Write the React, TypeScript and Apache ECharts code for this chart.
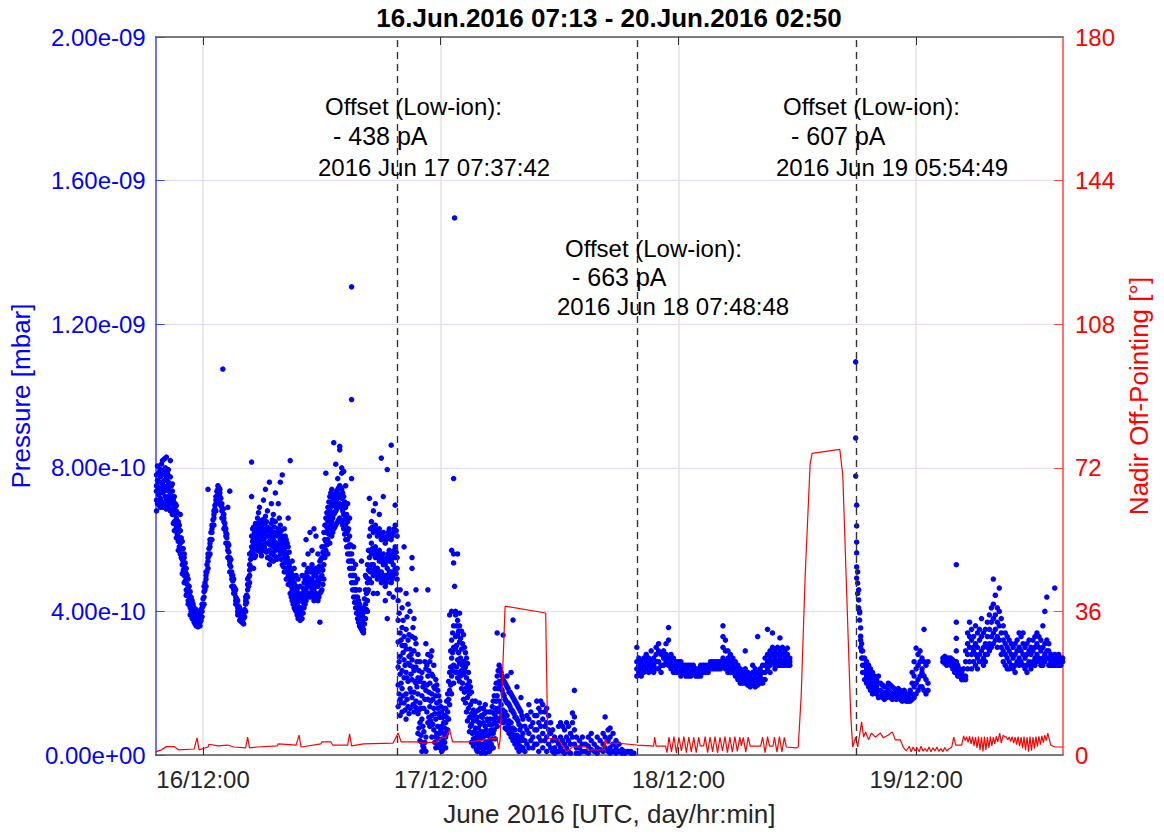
import React, { useEffect, useRef } from 'react';
import * as echarts from 'echarts';

// ---- axis extents (hours since 16 Jun 2016 00:00 UTC) ----
const X_MIN = 7 + 13 / 60; // 16.Jun.2016 07:13
const X_MAX = 96 + 2 + 50 / 60; // 20.Jun.2016 02:50
const xTickHours = [12, 36, 60, 84];

const titleText = '16.Jun.2016 07:13 - 20.Jun.2016 02:50';
const xName = 'June 2016 [UTC, day/hr:min]';
const yLeftName = 'Pressure [mbar]';
const yRightName = 'Nadir Off-Pointing [°]';

// offset events (hours), labels
const offsetEventHours = [31.628, 55.813, 77.914];
const offsetTitles = ['Offset (Low-ion):', 'Offset (Low-ion):', 'Offset (Low-ion):'];
const offsetValues = ['- 438 pA', '- 663 pA', '- 607 pA'];
const offsetStamps = ['2016 Jun 17 07:37:42', '2016 Jun 18 07:48:48', '2016 Jun 19 05:54:49'];

// ---- pressure samples: [hour, values in 1e-10 mbar] ----
const pressureA: [number, number[]][] = [
  [7.3, [7.5, 7.1, 7.8, 6.8, 7.35]], [7.5, [7.6, 7.25, 7.0, 7.85, 7.45]], [7.7, [7.4, 7.75, 7.95, 7.15, 6.9]],
  [7.9, [7.55, 7.8, 8.2, 7.3, 7.05]], [8.1, [7.65, 7.35, 7.9, 7.0, 8.25]], [8.3, [7.45, 7.7, 8.3, 7.1, 6.85]],
  [8.5, [7.2, 7.6, 7.95, 6.95, 7.4]], [8.7, [7.3, 7.05, 7.75, 8.2, 6.8]], [8.9, [7.0, 7.35, 6.7, 7.55, 7.2]],
  [9.1, [6.9, 6.5, 7.2, 6.25, 6.7]], [9.3, [6.6, 6.35, 6.95, 6.05, 6.8]], [9.5, [6.2, 5.95, 6.5, 5.7, 6.35]],
  [9.7, [5.9, 5.6, 6.25, 6.7, 5.75]], [9.9, [5.6, 5.3, 5.95, 5.05, 5.45]], [10.1, [5.25, 5.0, 5.5, 4.8, 5.6]],
  [10.3, [4.9, 4.6, 5.2, 4.45, 5.05]], [10.5, [4.65, 4.3, 4.9, 4.2, 4.5]], [10.7, [4.3, 4.1, 4.55, 3.9, 4.4]],
  [10.9, [4.15, 3.9, 4.3, 3.8, 4.0]], [11.1, [3.9, 3.7, 4.1, 3.75, 3.95]], [11.3, [3.75, 3.6, 3.95, 3.7, 4.05]],
  [11.5, [3.6, 3.7, 3.9, 3.57, 3.8]], [11.7, [3.7, 3.85, 4.0, 3.6, 3.9]], [11.9, [4.0, 4.2, 3.85, 4.1]],
  [12.1, [4.4, 4.7, 4.2, 4.55]], [12.3, [4.9, 5.1, 4.7, 5.0]], [12.5, [5.4, 5.6, 5.2, 7.4, 5.5]],
  [12.7, [5.8, 6.0, 5.6, 5.9]], [12.9, [6.2, 6.4, 6.0, 6.3]], [13.1, [6.6, 6.8, 6.4, 6.7]],
  [13.3, [7.0, 7.2, 6.8, 7.1]], [13.5, [7.3, 7.5, 7.1, 7.4]], [13.7, [7.4, 7.2, 7.0, 7.3]],
  [13.9, [7.0, 6.8, 6.6, 6.9]], [14.0, [10.75]], [14.1, [6.7, 6.5, 6.3, 6.6]],
  [14.3, [6.3, 6.1, 5.9, 6.2]], [14.5, [5.9, 5.7, 6.9, 5.5, 5.8]], [14.7, [5.5, 5.3, 5.1, 7.35, 5.4]],
  [14.9, [5.1, 4.9, 4.7, 5.0]], [15.1, [4.7, 4.5, 4.9, 4.6]], [15.3, [4.4, 4.2, 4.6, 4.3]],
  [15.5, [4.1, 3.9, 4.3, 4.0]], [15.7, [3.9, 3.75, 4.1, 4.0]], [15.9, [3.7, 3.85, 4.0, 3.8]],
  [16.1, [3.65, 3.8, 4.0, 3.9]], [16.3, [4.0, 4.2, 4.4, 4.3]], [16.5, [4.4, 4.6, 4.9, 4.75]],
  [16.7, [5.0, 5.3, 5.6, 4.8, 5.15]], [16.9, [5.5, 5.8, 6.1, 8.16, 7.2, 5.65]], [17.1, [5.6, 6.0, 6.35, 5.2, 5.8]],
  [17.3, [5.85, 6.1, 6.45, 5.55, 6.25]], [17.5, [6.0, 6.3, 5.7, 6.6, 6.15]], [17.7, [6.2, 5.9, 6.5, 6.9, 6.05]],
  [17.9, [6.1, 5.75, 6.4, 5.55, 6.25]], [18.1, [6.0, 6.3, 5.7, 7.1, 6.45]], [18.3, [6.2, 5.9, 6.65, 7.4, 5.7]],
  [18.5, [5.9, 6.35, 5.5, 6.8, 6.1]], [18.7, [5.7, 6.1, 5.3, 7.6, 5.95]], [18.9, [6.0, 5.6, 6.45, 7.0, 6.2]],
  [19.1, [5.8, 6.2, 5.4, 6.7, 5.95]], [19.3, [6.1, 5.7, 6.5, 7.3, 5.85]], [19.6, [5.9, 6.3, 5.5, 7.0, 6.1]],
  [19.8, [6.0, 5.6, 6.4, 7.6, 5.75]], [20.0, [5.7, 6.1, 5.3, 7.8, 5.9]], [20.2, [5.5, 5.9, 6.3, 5.1, 5.7]],
  [20.4, [5.2, 5.6, 6.0, 4.9, 5.4]], [20.6, [5.0, 5.4, 5.8, 6.6, 4.75]], [20.8, [4.8, 5.2, 4.5, 8.2, 5.0]],
  [21.0, [4.6, 5.0, 4.3, 5.4, 4.8]], [21.2, [4.4, 4.8, 4.1, 5.2, 4.6]], [21.4, [4.3, 4.0, 4.7, 5.0, 4.45]],
  [21.6, [4.1, 3.8, 4.5, 4.9, 4.3]], [21.8, [3.9, 4.3, 3.75, 4.7, 4.1]], [22.0, [4.1, 4.5, 3.8, 5.0, 4.3]],
  [22.2, [4.4, 4.8, 4.1, 5.3, 4.6]], [22.4, [4.6, 5.0, 4.3, 6.0, 4.8]], [22.6, [4.8, 5.2, 4.5, 5.6, 4.95]],
  [22.8, [4.7, 5.1, 4.4, 6.2, 4.9]], [23.0, [4.9, 5.3, 4.6, 5.7, 5.1]], [23.2, [4.6, 5.0, 4.3, 6.3, 4.8]],
  [23.4, [4.8, 5.2, 4.5, 6.1, 5.0]], [23.6, [4.7, 5.1, 4.3, 5.6, 4.9]], [23.8, [4.9, 5.4, 4.5, 3.7, 5.15]],
  [24.0, [5.0, 5.5, 4.6, 5.8, 5.25]], [24.2, [5.3, 5.8, 4.9, 6.2, 5.55]], [24.4, [5.7, 6.2, 6.6, 7.85, 5.95]],
  [24.6, [6.0, 6.5, 6.9, 5.6, 6.25]], [24.8, [6.3, 6.8, 7.2, 5.9, 6.55]], [25.0, [6.5, 7.0, 7.4, 6.1, 6.75]],
  [25.2, [6.7, 7.2, 6.3, 8.7, 6.95]], [25.4, [6.8, 7.3, 6.4, 8.1, 7.05]], [25.6, [6.9, 7.4, 6.5, 7.7, 7.15]],
  [25.8, [7.0, 6.6, 7.5, 8.6, 8.5, 7.25]], [26.0, [6.9, 7.4, 6.5, 8.0, 7.85, 7.15]], [26.2, [6.7, 7.2, 6.3, 7.9, 6.95]],
  [26.4, [6.4, 6.9, 6.0, 7.5, 6.65]], [26.6, [6.0, 6.5, 5.6, 7.0, 6.25]], [26.8, [5.6, 6.1, 5.2, 6.6, 5.85]],
  [27.0, [5.2, 5.6, 4.8, 7.7, 13.04, 9.9, 5.4]], [27.2, [4.8, 5.2, 4.4, 5.8, 5.0]], [27.4, [4.4, 4.8, 4.1, 5.3, 4.6]],
  [27.6, [4.1, 4.4, 3.8, 4.9, 4.25]], [27.8, [3.9, 4.2, 3.6, 4.6, 4.05]], [28.0, [3.7, 4.0, 3.5, 5.4, 3.85]],
  [28.2, [3.5, 3.8, 4.1, 3.4, 3.65]], [28.4, [3.8, 4.2, 4.6, 5.0, 4.0]], [28.6, [4.3, 4.8, 5.3, 4.0, 4.55]],
  [28.8, [4.9, 5.5, 6.1, 7.15, 5.2]], [29.0, [5.3, 5.9, 6.5, 4.8, 5.6]], [29.2, [5.0, 5.6, 6.2, 6.8, 4.5, 5.3]],
  [29.4, [5.2, 5.8, 6.4, 7.0, 5.5]], [29.6, [4.9, 5.5, 6.1, 4.5, 5.2]], [29.8, [5.1, 5.7, 6.3, 6.7, 5.4]],
  [30.0, [4.8, 5.4, 6.0, 8.27, 5.1]], [30.2, [5.0, 5.6, 6.2, 7.2, 5.3]], [30.4, [4.7, 5.3, 5.9, 4.3, 5.0]],
  [30.6, [4.9, 5.5, 6.1, 3.8, 7.95, 5.2]], [30.8, [5.1, 5.7, 6.3, 4.5, 5.4]], [31.0, [4.8, 5.4, 6.0, 8.63, 5.1]],
  [31.2, [5.0, 5.6, 6.2, 4.4, 5.3]], [31.4, [5.2, 5.8, 6.4, 6.96, 5.5]], [31.6, [4.9, 5.5, 6.1, 4.6, 5.2]],
];

// readings between the columns above (same day, 16-17 Jun)
const pressureAMid: [number, number[]][] = [
  [7.4, [7.65, 7.0, 8.05]], [7.6, [7.3, 7.9, 6.95]], [7.8, [7.6, 7.05, 8.1]], [8.0, [7.45, 7.85, 6.9]],
  [8.2, [7.2, 7.8, 8.0]], [8.4, [7.5, 6.95, 7.85]], [8.6, [7.35, 7.75, 7.0]], [8.8, [7.15, 7.5, 6.85]],
  [9.0, [7.1, 6.8, 6.45]], [9.2, [6.75, 6.45, 7.0]], [9.4, [6.4, 6.15, 6.75]], [9.6, [6.05, 5.8, 6.4]],
  [9.8, [5.75, 5.5, 6.05]], [10.0, [5.4, 5.15, 5.75]], [10.2, [5.1, 4.85, 5.35]], [10.4, [4.75, 4.5, 5.0]],
  [10.6, [4.45, 4.25, 4.7]], [10.8, [4.2, 4.0, 4.4]], [11.0, [4.0, 3.8, 4.2]], [11.2, [3.85, 3.65, 4.0]],
  [11.4, [3.7, 3.6, 3.85]], [11.6, [3.62, 3.8, 3.95]], [11.8, [3.85, 4.05, 3.75]], [12.0, [4.15, 4.35]],
  [12.2, [4.6, 4.8]], [12.4, [5.1, 5.3]], [12.6, [5.55, 5.75]], [12.8, [6.0, 6.2]], [13.0, [6.4, 6.55]],
  [13.2, [6.85, 6.95]], [13.4, [7.2, 7.35]], [13.6, [7.45, 7.3]], [13.8, [7.15, 6.95]], [14.05, [6.85, 6.7]],
  [14.2, [6.45, 6.35]], [14.4, [6.05, 6.15]], [14.6, [5.65, 5.85]], [14.8, [5.25, 5.45]], [15.0, [4.85, 5.0]],
  [15.2, [4.5, 4.65]], [15.4, [4.2, 4.35]], [15.6, [3.95, 4.15]], [15.8, [3.8, 3.95]], [16.0, [3.7, 3.9]],
  [16.2, [3.85, 4.05]], [16.4, [4.25, 4.45]], [16.6, [4.7, 4.95]], [16.8, [5.25, 5.45]], [17.0, [5.7, 5.95, 6.3]],
  [17.2, [5.5, 6.2, 5.9]], [17.4, [6.35, 5.75, 6.05]], [17.6, [6.4, 5.8, 6.75]], [17.8, [6.3, 5.65, 6.0]],
  [18.0, [5.85, 6.55, 6.15]], [18.2, [6.45, 5.8, 6.05]], [18.4, [6.1, 5.65, 6.5]], [18.6, [5.5, 6.25, 5.9]],
  [18.8, [6.3, 5.45, 5.85]], [19.0, [5.65, 6.05, 6.55]], [19.2, [5.95, 5.55, 6.35]], [19.45, [6.2, 5.8, 5.45]],
  [19.7, [5.7, 6.15, 6.6]], [19.9, [5.85, 5.45, 6.25]], [20.1, [5.6, 6.0, 5.25]], [20.3, [5.35, 5.8, 6.1]],
  [20.5, [5.1, 5.5, 5.9]], [20.7, [4.9, 5.3, 5.65]], [20.9, [4.7, 5.1, 4.4]], [21.1, [4.5, 4.9, 4.2]],
  [21.3, [4.35, 4.65, 4.05]], [21.5, [4.2, 3.9, 4.6]], [21.7, [4.0, 3.85, 4.4]], [21.9, [4.0, 4.4, 3.8]],
  [22.1, [4.25, 4.65, 3.95]], [22.3, [4.5, 4.9, 4.2]], [22.5, [4.7, 5.1, 4.4]], [22.7, [4.75, 5.15, 4.45]],
  [22.9, [4.8, 5.2, 4.5]], [23.1, [4.75, 5.15, 4.4]], [23.3, [4.7, 5.1, 4.45]], [23.5, [4.75, 5.15, 4.4]],
  [23.7, [4.8, 5.25, 4.4]], [23.9, [4.95, 5.45, 4.55]], [24.1, [5.15, 5.65, 4.75]], [24.3, [5.5, 6.0, 6.4]],
  [24.5, [5.85, 6.35, 6.75]], [24.7, [6.15, 6.65, 7.05]], [24.9, [6.4, 6.9, 7.3]], [25.1, [6.6, 7.1, 6.2]],
  [25.3, [6.75, 7.25, 6.35]], [25.5, [6.85, 7.35, 6.45]], [25.7, [6.95, 7.45, 6.55]], [25.9, [6.95, 7.45, 6.55]],
  [26.1, [6.8, 7.3, 6.4]], [26.3, [6.55, 7.05, 6.15]], [26.5, [6.2, 6.7, 5.8]], [26.7, [5.8, 6.3, 5.4]],
  [26.9, [5.4, 5.85, 5.0]], [27.1, [5.0, 5.4, 4.6]], [27.3, [4.6, 5.0, 4.25]], [27.5, [4.25, 4.6, 3.95]],
  [27.7, [4.0, 4.3, 3.7]], [27.9, [3.8, 4.1, 3.55]], [28.1, [3.6, 3.9, 3.45]], [28.3, [3.65, 4.0, 4.35]],
  [28.5, [4.05, 4.5, 4.95]], [28.7, [4.6, 5.15, 5.7]], [28.9, [5.1, 5.7, 6.3]], [29.1, [5.15, 5.75, 6.35]],
  [29.3, [5.1, 5.7, 6.3]], [29.5, [5.05, 5.65, 6.25]], [29.7, [5.0, 5.6, 6.2]], [29.9, [4.95, 5.55, 6.15]],
  [30.1, [4.9, 5.5, 6.1]], [30.3, [4.85, 5.45, 6.05]], [30.5, [4.8, 5.4, 6.0]], [30.7, [5.0, 5.6, 6.2]],
  [30.9, [4.95, 5.55, 6.15]], [31.1, [4.9, 5.5, 6.1]], [31.3, [5.1, 5.7, 6.3]], [31.5, [5.05, 5.65, 6.25]],
];

const pressureB: [number, number[]][] = [
  [31.7, [4.3, 3.75, 3.15, 2.45, 1.95, 1.35]], [31.9, [4.6, 3.4, 2.75, 2.25, 1.55, 1.1]],
  [32.1, [4.1, 3.55, 3.05, 2.35, 1.85, 1.2]], [32.3, [5.8, 3.3, 2.65, 2.15, 1.45]],
  [32.5, [4.5, 3.5, 2.95, 2.3, 1.7, 1.0]], [32.7, [4.2, 3.2, 2.55, 2.05, 1.35]],
  [32.9, [4.0, 2.95, 2.5, 1.85, 1.3]], [33.1, [5.5, 5.2, 3.3, 2.65, 2.1, 1.6]],
  [33.3, [3.8, 2.9, 2.35, 1.75, 1.2]], [33.5, [4.6, 3.1, 2.45, 2.0, 1.5]],
  [33.7, [2.8, 2.15, 1.7, 1.15, 0.6]], [33.9, [2.6, 2.05, 1.45, 0.9, 0.4]],
  [34.1, [2.3, 1.65, 1.0, 0.35, 0.1]], [34.3, [2.0, 1.3, 0.65, 0.2]],
  [34.5, [3.1, 2.4, 1.8, 0.5, 0.1]], [34.7, [4.6, 2.8, 2.2, 1.55, 0.9]],
  [34.9, [2.6, 2.0, 1.35, 0.8]], [35.1, [2.9, 2.25, 1.7, 1.1, 0.5]],
  [35.3, [2.5, 1.9, 1.3, 0.7]], [35.5, [2.1, 1.65, 1.0, 0.5, 0.2]],
  [35.7, [1.8, 1.3, 0.8, 0.3]], [35.9, [1.5, 1.05, 0.6, 0.2]],
  [36.1, [1.2, 0.8, 0.4, 0.1]], [36.3, [0.9, 0.6, 0.2, 1.3]],
  [36.5, [1.3, 0.9, 0.5, 0.2]], [36.7, [1.7, 1.2, 0.7]],
  [36.9, [2.3, 1.8, 1.4, 3.9]], [37.1, [3.2, 2.7, 2.2, 1.7, 4.0, 5.7]],
  [37.3, [3.6, 3.0, 2.5, 2.0, 7.7, 5.6, 5.35]], [37.4, [14.96, 4.7]],
  [37.5, [3.9, 3.3, 2.95, 2.3, 4.0]], [37.7, [3.75, 3.35, 2.65, 2.15, 5.6]],
  [37.9, [3.6, 3.15, 2.55, 2.05, 3.95]], [38.1, [3.45, 2.95, 2.35, 1.85]],
  [38.3, [3.35, 2.6, 2.25, 1.55]], [38.5, [2.85, 2.45, 1.85, 1.45]],
  [38.7, [2.55, 1.95, 1.6, 0.95]], [38.9, [2.05, 1.7, 1.05, 0.65]],
  [39.1, [1.75, 1.15, 0.85, 0.35]], [39.3, [1.25, 0.95, 0.45, 0.25]],
  [39.5, [1.2, 0.75, 0.4, 1.5]], [39.7, [1.05, 0.6, 0.3, 0.1]],
  [39.9, [1.45, 0.9, 0.55, 0.2]], [40.1, [1.1, 0.65, 0.3, 0.05]],
  [40.3, [0.9, 0.5, 0.15, 1.3]], [40.5, [1.4, 0.8, 0.35, 0.05]],
  [40.7, [1.0, 0.55, 0.2]], [40.9, [0.85, 0.4, 0.1, 1.2]],
  [41.1, [1.2, 0.7, 0.3]], [41.3, [1.5, 1.0, 0.6, 0.2]],
  [41.5, [1.85, 1.3, 0.9, 0.45]], [41.7, [2.2, 1.65, 1.2, 0.8, 3.4]],
  [41.9, [2.5, 2.05, 1.5, 0.95]], [42.1, [2.3, 1.85, 1.4, 1.05]],
  [42.3, [2.1, 1.7, 1.25, 0.9, 3.34]], [42.5, [2.0, 1.55, 1.2, 0.75]],
  [42.7, [1.9, 1.45, 1.1, 0.7, 2.2]], [42.9, [1.75, 1.4, 0.95, 0.6]],
  [43.1, [1.7, 1.25, 0.9, 0.5, 2.3]], [43.3, [1.6, 1.2, 0.75, 0.4, 3.76]],
  [43.5, [1.5, 1.05, 0.7, 0.3]], [43.7, [1.4, 1.0, 0.55, 0.2, 1.9]],
  [43.9, [1.3, 0.85, 0.5, 0.1]], [44.1, [1.2, 0.8, 0.4, 1.6]],
  [44.3, [1.0, 0.6, 0.2]], [44.5, [0.8, 0.4, 0.1]],
  [44.7, [1.1, 0.7, 0.3]], [44.9, [1.4, 1.0, 0.6, 0.2]],
  [45.1, [1.2, 0.8, 0.4]], [45.3, [0.9, 0.5, 0.2]],
  [45.5, [1.1, 0.7, 0.3]], [45.7, [1.5, 1.1, 0.7, 0.3]],
  [45.9, [1.3, 0.9, 0.5, 0.1]], [46.1, [1.5, 1.2, 0.8, 0.4]],
  [46.3, [1.4, 1.0, 0.6, 0.2]], [46.5, [1.2, 0.8, 0.4]],
  [46.7, [1.3, 0.9, 0.5, 0.1]], [46.9, [1.1, 0.7, 0.3]],
  [47.1, [0.9, 0.6, 0.2]], [47.3, [0.7, 0.4, 0.1]],
  [47.5, [0.5, 0.2, 0.05]], [47.7, [0.4, 0.1]],
  [47.9, [0.8, 0.3, 0.1]], [48.1, [0.9, 0.5, 0.2]],
  [48.3, [0.8, 0.4, 0.1]], [48.5, [0.7, 0.3, 0.05]],
  [48.7, [0.9, 0.5, 0.2]], [48.9, [0.8, 0.4, 0.1]],
  [49.1, [0.6, 0.3, 0.05]], [49.3, [0.9, 0.5, 1.17]],
  [49.5, [0.7, 0.3, 1.8, 1.06]], [49.7, [0.5, 0.2, 0.05]],
  [50.0, [0.4, 0.2, 0.05]], [50.3, [0.5, 0.3, 0.1]],
  [50.6, [0.3, 0.1]], [50.9, [0.5, 0.25, 0.05]],
  [51.2, [0.6, 0.4, 0.15]], [51.5, [0.3, 0.1]],
  [51.8, [0.5, 0.2, 0.05]], [52.1, [0.4, 0.15]],
  [52.4, [0.6, 0.3, 0.1]], [52.6, [1.06, 0.5, 0.2]],
  [52.9, [0.7, 0.4, 0.1]], [53.1, [0.75, 0.5, 0.2, 0.05]],
  [53.4, [0.6, 0.3, 0.1]], [53.7, [0.4, 0.2, 0.05]],
  [54.0, [0.3, 0.1]], [54.3, [0.15, 0.05]],
  [54.6, [0.1, 0.05]], [54.9, [0.1]],
  [55.2, [0.05, 0.1]], [55.5, [0.05]],
];

const pressureBMid: [number, number[]][] = [
  [31.8, [3.95, 2.6, 1.7]], [32.0, [3.2, 2.0, 1.45]], [32.2, [3.75, 2.85, 1.65]], [32.4, [3.05, 2.5, 1.25]],
  [32.6, [3.85, 2.15, 1.55]], [32.8, [3.35, 2.75, 1.15]], [33.0, [2.8, 2.25, 1.75]], [33.2, [3.55, 2.45, 1.4]],
  [33.4, [3.25, 2.05, 1.35]], [33.6, [2.6, 1.9, 1.3]], [33.8, [2.35, 1.25, 0.75]], [34.0, [2.15, 1.3, 0.55]],
  [34.2, [1.9, 0.8, 0.25]], [34.4, [2.6, 1.55, 0.35]], [34.6, [2.5, 1.95, 1.2]], [34.8, [2.35, 1.75, 1.05]],
  [35.0, [2.75, 1.5, 0.95]], [35.2, [2.2, 1.55, 0.85]], [35.4, [1.85, 1.15, 0.35]], [35.6, [1.95, 1.45, 0.6]],
  [35.8, [1.65, 1.15, 0.45]], [36.0, [1.35, 0.7, 0.3]], [36.2, [1.05, 0.45, 0.15]], [36.4, [1.1, 0.75, 0.35]],
  [36.6, [1.5, 1.05, 0.6]], [36.8, [2.05, 1.55, 1.0]], [37.0, [2.9, 2.45, 1.95]], [37.2, [3.4, 2.85, 2.35]],
  [37.6, [3.6, 3.05, 2.45]], [37.8, [3.45, 2.85, 2.3]], [38.0, [3.25, 2.7, 2.2]], [38.2, [3.1, 2.5, 2.0]],
  [38.4, [3.0, 2.35, 1.75]], [38.6, [2.7, 2.15, 1.2]], [38.8, [2.3, 1.8, 1.3]], [39.0, [1.9, 1.4, 0.8]],
  [39.2, [1.5, 1.05, 0.6]], [39.4, [1.1, 0.65, 0.3]], [39.6, [0.95, 0.5, 0.15]], [39.8, [1.25, 0.75, 0.35]],
  [40.0, [1.3, 0.85, 0.45]], [40.2, [1.05, 0.6, 0.2]], [40.4, [1.15, 0.65, 0.25]], [40.6, [1.2, 0.7, 0.3]],
  [40.8, [0.95, 0.55, 0.2]], [41.0, [1.0, 0.6, 0.15]], [41.2, [1.35, 0.85, 0.45]], [41.4, [1.65, 1.15, 0.7]],
  [41.6, [2.0, 1.5, 1.05]], [41.8, [2.35, 1.85, 1.3]], [42.0, [2.4, 1.95, 1.2]], [42.2, [2.2, 1.8, 1.15]],
  [42.4, [2.05, 1.65, 1.05]], [42.6, [1.95, 1.5, 0.95]], [42.8, [1.85, 1.45, 0.85]], [43.0, [1.75, 1.35, 0.75]],
  [43.2, [1.65, 1.25, 0.65]], [43.4, [1.55, 1.15, 0.55]], [43.6, [1.45, 1.05, 0.45]], [43.8, [1.35, 0.95, 0.35]],
  [44.0, [1.25, 0.7, 0.25]], [44.2, [1.1, 0.5, 0.15]],
];

const pressureC: [number, number[]][] = [
  [55.8, [2.4, 2.6, 3.0, 2.2]], [56.0, [2.5, 2.3, 2.7]], [56.25, [2.4, 2.6, 2.2]],
  [56.5, [2.5, 2.3, 2.7]], [56.75, [2.6, 2.4, 2.8]], [57.0, [2.5, 2.3, 2.7]],
  [57.25, [2.6, 2.4, 2.9]], [57.5, [2.7, 2.5, 2.3]], [57.75, [2.8, 2.6, 2.4, 3.0]],
  [58.0, [2.9, 2.6, 2.4, 3.1]], [58.25, [2.8, 2.5, 2.3]], [58.5, [2.7, 2.5, 2.9]],
  [58.75, [2.8, 2.6, 3.1]], [59.0, [2.7, 2.5, 3.2, 3.55]], [59.25, [2.6, 2.4, 2.8]],
  [59.5, [2.5, 2.3, 2.7]], [59.75, [2.4, 2.6, 2.3]], [60.0, [2.5, 2.3, 2.6]],
  [60.25, [2.4, 2.2, 2.6]], [60.5, [2.5, 2.3, 2.4]], [60.75, [2.3, 2.5, 2.2]],
  [61.0, [2.4, 2.2, 2.5]], [61.25, [2.3, 2.5, 2.2]], [61.5, [2.4, 2.3, 2.5]],
  [61.75, [2.3, 2.2, 2.4]], [62.0, [2.4, 2.2, 2.3]], [62.25, [2.3, 2.5, 2.2]],
  [62.5, [2.4, 2.3, 2.5]], [62.75, [2.3, 2.4, 2.5]], [63.0, [2.4, 2.5, 2.3]],
  [63.25, [2.5, 2.4, 2.6]], [63.5, [2.4, 2.5, 2.6]], [63.75, [2.5, 2.4, 2.6]],
  [64.0, [2.5, 2.4, 2.6]], [64.25, [2.4, 2.6, 2.5]], [64.5, [2.7, 3.0, 3.3, 3.6, 2.5]],
  [64.75, [2.6, 2.9, 3.2, 2.4]], [65.0, [2.5, 2.7, 2.3, 2.9]], [65.25, [2.4, 2.6, 2.8, 2.3]],
  [65.5, [2.3, 2.5, 2.7]], [65.75, [2.4, 2.6, 2.2]], [66.0, [2.3, 2.1, 2.5]],
  [66.25, [2.2, 2.0, 2.4]], [66.5, [2.1, 2.3, 2.0]], [66.75, [2.0, 2.2, 2.4, 2.9]],
  [67.0, [2.1, 1.95, 2.3]], [67.25, [2.0, 2.2, 1.9]], [67.5, [2.1, 1.95, 2.3, 2.5]],
  [67.75, [2.0, 2.2, 1.9, 2.4]], [68.0, [2.1, 2.3, 1.95, 3.3]], [68.25, [2.2, 2.0, 2.4]],
  [68.5, [2.3, 2.1, 2.5, 2.0]], [68.75, [2.5, 2.3, 2.7, 2.1]], [69.0, [2.6, 2.4, 2.8, 3.5]],
  [69.25, [2.7, 2.5, 2.9, 2.3]], [69.5, [2.8, 2.6, 3.0, 3.4]], [69.75, [2.7, 2.5, 2.9, 2.4]],
  [70.0, [2.8, 2.6, 3.0, 2.5]], [70.25, [2.7, 2.5, 2.9, 3.26]], [70.5, [2.8, 2.6, 3.0, 2.5]],
  [70.75, [2.7, 2.5, 2.9]], [71.0, [2.6, 2.8, 2.98, 2.5]], [71.25, [2.7, 2.5, 2.6]],
];

const pressureD: [number, number[]][] = [
  [77.9, [10.95, 8.83, 7.77]], [78.0, [6.96, 6.38, 5.93, 5.63, 5.24, 4.93]],
  [78.1, [4.79, 4.5, 5.1]], [78.2, [4.32, 4.1, 4.6]], [78.3, [3.96, 3.76, 4.0]],
  [78.4, [3.54, 3.31, 3.2, 3.0]], [78.5, [3.1, 2.9, 2.7]], [78.6, [2.9, 2.7, 2.5, 2.3]],
  [78.8, [2.7, 2.5, 2.3, 2.1]], [79.0, [2.6, 2.4, 2.2, 2.0]], [79.2, [2.5, 2.3, 2.1, 1.9]],
  [79.4, [2.4, 2.2, 2.0, 1.8]], [79.6, [2.3, 2.1, 1.9, 1.7]], [79.8, [2.2, 2.0, 1.8]],
  [80.0, [2.1, 1.9, 1.7]], [80.2, [2.0, 1.8, 1.6, 2.2]], [80.4, [2.0, 1.8, 1.65]],
  [80.6, [1.95, 1.75, 1.6]], [80.8, [1.9, 1.7, 1.55]], [81.0, [1.9, 1.75, 1.6]],
  [81.2, [2.0, 1.8, 1.65]], [81.4, [1.95, 1.75, 1.6]], [81.6, [1.9, 1.7, 1.55]],
  [81.8, [1.85, 1.7, 1.6]], [82.0, [1.8, 1.65, 1.55]], [82.2, [1.85, 1.7, 1.6]],
  [82.4, [1.8, 1.65, 1.55]], [82.6, [1.75, 1.6, 1.5]], [82.8, [1.8, 1.65, 1.55]],
  [83.0, [1.7, 1.55, 1.5]], [83.2, [1.65, 1.5, 1.6]], [83.4, [1.7, 1.5, 1.8]],
  [83.6, [2.0, 1.7, 1.55, 2.3]], [83.8, [2.2, 1.9, 1.6, 2.6]], [84.0, [2.4, 2.0, 1.7, 2.98]],
  [84.2, [2.5, 2.1, 1.8, 2.8]], [84.4, [2.6, 2.2, 1.9, 2.9]], [84.6, [2.7, 2.3, 1.9, 2.4]],
  [84.8, [2.6, 2.2, 1.8, 3.5]], [85.0, [2.5, 2.1, 1.7]], [85.2, [2.6, 2.0, 1.8]],
  [86.7, [2.6, 2.7]], [86.9, [2.65, 2.55, 2.75]], [87.1, [2.6, 2.7, 2.5]],
  [87.3, [2.65, 2.55, 2.7]], [87.5, [2.6, 2.7, 2.5]], [87.7, [2.55, 2.65, 2.4]],
  [87.9, [2.5, 2.4, 2.3, 2.6]], [88.06, [5.3, 3.7, 3.25, 2.9, 2.6, 2.3]],
  [88.2, [2.4, 2.2, 2.5]], [88.4, [2.3, 2.2, 2.4]], [88.6, [2.2, 2.3, 2.1]],
  [88.8, [2.2, 2.1, 2.4]], [89.0, [2.1, 2.2, 2.6, 2.9]], [89.2, [2.4, 2.8, 3.1, 3.4]],
  [89.4, [2.6, 3.0, 3.3, 3.7]], [89.6, [2.4, 2.8, 3.2, 3.5]], [89.8, [2.6, 2.9, 3.3, 3.0]],
  [90.0, [2.5, 2.8, 3.1, 3.6]], [90.2, [2.7, 3.0, 3.4, 2.4]], [90.4, [2.8, 3.2, 3.5, 2.6]],
  [90.6, [2.6, 2.9, 3.3, 3.8]], [90.8, [2.7, 3.0, 3.4, 2.5]], [91.0, [2.8, 3.1, 3.5, 2.6]],
  [91.2, [3.0, 3.3, 3.7, 2.8]], [91.4, [3.1, 3.5, 3.9, 2.9]], [91.6, [3.3, 3.7, 4.1, 3.0]],
  [91.8, [3.4, 3.8, 4.2, 4.9, 3.1]], [92.0, [3.5, 3.9, 4.45, 3.2]], [92.2, [3.3, 3.7, 4.1, 3.0]],
  [92.4, [3.2, 3.6, 4.0, 4.65]], [92.6, [3.0, 3.4, 3.8, 2.8]], [92.8, [2.9, 3.2, 3.6, 2.6]],
  [93.0, [2.8, 3.1, 3.4, 2.5]], [93.2, [2.7, 3.0, 3.3, 2.4]], [93.4, [2.6, 2.9, 3.2, 2.4]],
  [93.6, [2.5, 2.8, 3.1]], [93.8, [2.4, 2.7, 3.0]], [94.0, [2.5, 2.8, 3.1, 2.3]],
  [94.2, [2.6, 2.9, 3.2]], [94.4, [2.7, 3.0, 3.4, 2.5]], [94.6, [2.6, 2.9, 3.3]],
  [94.8, [2.5, 2.8, 3.4, 3.1]], [95.0, [2.4, 2.7, 3.0]], [95.2, [2.5, 2.8, 3.1, 2.3]],
  [95.4, [2.6, 2.9, 3.2]], [95.6, [2.5, 2.8, 3.0, 2.4]], [95.8, [2.6, 2.9, 3.2]],
  [96.0, [2.7, 3.0, 3.3, 2.5]], [96.2, [2.8, 3.1, 3.4, 2.6]], [96.4, [2.7, 3.0, 3.3]],
  [96.6, [2.6, 2.9, 3.2, 2.5]], [96.8, [2.7, 3.0, 3.6, 2.5]], [97.0, [2.8, 3.1, 4.0, 2.6]],
  [97.2, [2.9, 3.2, 4.4, 2.7]], [97.4, [2.7, 2.9, 3.1, 2.5]], [97.6, [2.6, 2.8, 2.5]],
  [97.8, [2.5, 2.7, 2.6]], [98.0, [2.6, 2.8, 2.5, 4.65]], [98.2, [2.5, 2.7, 2.6]],
  [98.4, [2.6, 2.8, 2.5]], [98.6, [2.7, 2.6, 2.5]], [98.8, [2.6, 2.7]],
];

// ---- nadir off-pointing: [hour, degrees] ----
const nadir: [number, number][] = [
  [7.22, 0.8], [7.8, 1.3], [8.3, 2.1], [9.1, 2.1], [9.5, 1.3], [11.1, 1.5], [11.4, 4.3], [11.6, 1.3],
  [12.5, 2.0], [12.6, 2.7], [13.5, 2.3], [14.5, 2.5], [15.1, 2.0], [16.3, 1.8], [16.5, 4.5], [16.7, 1.8],
  [17.5, 2.0], [19.5, 2.3], [19.6, 2.8], [21.4, 2.5], [21.7, 5.0], [21.9, 2.0], [23.9, 2.8], [24.0, 3.3],
  [24.9, 3.3], [25.1, 2.5], [26.6, 2.5], [26.8, 5.3], [27.0, 2.3], [28.2, 2.8], [31.2, 3.0], [31.7, 5.5],
  [32.0, 3.3], [33.6, 3.3], [34.1, 3.0], [35.6, 3.3], [36.2, 4.5], [36.5, 4.3], [36.9, 6.3], [37.2, 3.3],
  [39.0, 3.3], [41.7, 4.3], [41.85, 1.5], [42.0, 4.0], [42.5, 37.3], [46.6, 35.6], [46.8, 4.3],
  [47.0, 4.2], [47.9, 3.8], [48.7, 0.8], [49.3, 2.0], [50.7, 2.0], [50.8, 1.3], [52.5, 1.3], [52.6, 4.0],
  [52.8, 2.8], [53.8, 3.0], [55.8, 2.5], [57.3, 2.3], [57.5, 2.2], [57.6, 4.5], [57.75, 2.2], [58.7, 2.2],
  [58.85, 0.6], [59.05, 4.5], [59.3, 0.8], [59.55, 4.6], [59.8, 0.5], [60.05, 4.4], [60.3, 1.0],
  [60.55, 4.6], [60.8, 0.6], [61.05, 4.5], [61.3, 0.8], [61.55, 4.4], [61.8, 0.6], [62.05, 4.5],
  [62.2, 2.3], [62.55, 2.3], [62.7, 4.6], [62.95, 0.6], [63.2, 4.5], [63.45, 0.8], [63.7, 4.6],
  [63.95, 0.5], [64.2, 4.4], [64.45, 1.0], [64.7, 4.6], [64.95, 0.6], [65.2, 4.5], [65.45, 0.7],
  [65.7, 4.6], [65.95, 0.9], [66.2, 4.5], [66.35, 2.3], [66.55, 4.4], [66.8, 0.7], [67.05, 4.5],
  [67.25, 2.2], [68.3, 2.2], [68.5, 4.5], [68.75, 0.6], [69.0, 4.6], [69.2, 2.2], [69.55, 2.2],
  [69.7, 4.5], [69.95, 0.7], [70.2, 4.6], [70.45, 0.8], [70.7, 4.4], [70.9, 2.0], [71.9, 1.8],
  [72.1, 2.0], [72.4, 15], [72.8, 45], [73.3, 73], [73.5, 75.6], [76.3, 76.6], [76.6, 70], [77.0, 40],
  [77.4, 10], [77.6, 2.0], [77.9, 4.5], [78.1, 2.0], [78.5, 8.3], [78.7, 4.5], [78.9, 5.8], [79.2, 3.8],
  [79.5, 5.5], [79.9, 4.5], [80.4, 5.5], [80.7, 4.3], [81.2, 5.0], [81.6, 5.8], [81.9, 3.8], [82.4, 3.8],
  [82.7, 2.0], [83.0, 1.0], [83.3, 2.2], [83.5, 0.8], [83.7, 2.0], [83.9, 1.0], [84.1, 1.8], [84.3, 0.8],
  [84.5, 2.2], [84.7, 1.0], [84.9, 1.6], [85.1, 0.9], [85.3, 2.0], [85.5, 0.8], [85.7, 1.8], [85.9, 1.0],
  [86.1, 2.0], [86.3, 0.9], [86.5, 1.6], [86.7, 0.8], [86.9, 1.9], [87.1, 1.0], [87.3, 1.5], [87.6, 2.0],
  [87.8, 4.5], [88.0, 2.5], [88.6, 2.5], [88.8, 4.8], [88.95, 3.6], [89.1, 4.6], [89.25, 3.2], [89.4, 4.7],
  [89.55, 2.8], [89.7, 4.6], [89.85, 2.3], [90.0, 4.5], [90.15, 1.8], [90.3, 4.6], [90.45, 1.2],
  [90.6, 4.5], [90.75, 0.9], [90.9, 4.6], [91.05, 1.3], [91.2, 4.5], [91.35, 1.8], [91.5, 4.6],
  [91.65, 2.3], [91.8, 4.5], [91.95, 2.8], [92.1, 4.7], [92.25, 3.3], [92.45, 5.5], [92.6, 3.0],
  [92.8, 5.0], [93.0, 4.5], [93.1, 4.6], [93.25, 3.8], [93.4, 4.5], [93.55, 3.4], [93.7, 4.6],
  [93.85, 3.0], [94.0, 4.5], [94.15, 2.6], [94.3, 4.6], [94.45, 2.2], [94.6, 4.5], [94.75, 1.7],
  [94.9, 4.6], [95.05, 1.2], [95.2, 4.5], [95.35, 0.8], [95.5, 4.6], [95.65, 1.1], [95.8, 4.5],
  [95.95, 1.6], [96.1, 4.6], [96.25, 2.1], [96.4, 4.7], [96.55, 2.6], [96.7, 4.8], [96.85, 3.1],
  [97.0, 5.0], [97.15, 3.6], [97.3, 5.5], [97.6, 2.5], [98.0, 2.0], [98.83, 2.0],
];

const FONT = '"Liberation Sans", Arial, Helvetica, sans-serif';

function fmtExp(v: number): string {
  const x = v * 1e-10;
  if (Math.abs(x) < 1e-25) return '0.00e+00';
  let e = Math.floor(Math.log10(Math.abs(x)));
  let m = x / Math.pow(10, e);
  if (Math.round(m * 100) / 100 >= 10) { m /= 10; e += 1; }
  const sign = e < 0 ? '-' : '+';
  const ea = Math.abs(e);
  return `${m.toFixed(2)}e${sign}${ea < 10 ? '0' + ea : ea}`;
}

function fmtHour(v: number): string {
  const day = 16 + Math.floor(v / 24);
  const hh = Math.round(v % 24);
  return `${day}/${hh < 10 ? '0' + hh : hh}:00`;
}

export default function App() {
  const ref = useRef<HTMLDivElement>(null);
  useEffect(() => {
    if (!ref.current) return;
    const chart = echarts.init(ref.current, undefined, { renderer: 'svg' });

    const scatterData: [number, number][] = [];
    [pressureA, pressureAMid, pressureB, pressureBMid, pressureC, pressureD].forEach((seg) =>
      seg.forEach(([h, vals]) => vals.forEach((v) => scatterData.push([h, v])))
    );

    // annotation layout (pixels)
    const annotX1 = [325, 565, 783];
    const annotX2 = [333, 572, 791];
    const annotX3 = [318, 557, 776];
    const annotY = [[106, 136, 167], [248, 277, 306], [106, 136, 167]];
    const graphics: any[] = [
      {
        type: 'text', x: 609, y: 18, z: 100,
        style: { text: titleText, fontSize: 26, fontWeight: 'bold', fontFamily: FONT, fill: '#000',
          textAlign: 'center', textVerticalAlign: 'middle', align: 'center', verticalAlign: 'middle' },
      },
    ];
    for (let i = 0; i < 3; i++) {
      const lines = [
        { t: offsetTitles[i], x: annotX1[i], y: annotY[i][0], s: 24 },
        { t: offsetValues[i], x: annotX2[i], y: annotY[i][1], s: 25 },
        { t: offsetStamps[i], x: annotX3[i], y: annotY[i][2], s: 24 },
      ];
      lines.forEach((l) =>
        graphics.push({
          type: 'text', x: l.x, y: l.y, z: 100,
          style: { text: l.t, fontSize: l.s, fontFamily: FONT, fill: '#000',
            textAlign: 'left', textVerticalAlign: 'middle', align: 'left', verticalAlign: 'middle' },
        })
      );
    }

    const option: any = {
      animation: false,
      backgroundColor: '#fff',
      textStyle: { fontFamily: FONT },
      grid: { left: 155, right: 101, top: 37, bottom: 81, containLabel: false },
      graphic: graphics,
      xAxis: [
        {
          type: 'value', min: X_MIN, max: X_MAX, position: 'bottom',
          name: xName, nameLocation: 'middle', nameGap: 46,
          nameTextStyle: { fontSize: 26, color: '#262626', fontFamily: FONT },
          axisLine: { show: true, onZero: false, lineStyle: { color: '#555', width: 1.5 } },
          axisTick: { show: true, inside: true, length: 8, customValues: xTickHours, lineStyle: { color: '#333' } },
          axisLabel: { show: true, customValues: xTickHours, formatter: fmtHour, fontSize: 24, color: '#262626', margin: 12, fontFamily: FONT },
          splitLine: { show: true, lineStyle: { color: '#e2e2e2', width: 1.5 } },
        },
        {
          type: 'value', min: X_MIN, max: X_MAX, position: 'top',
          axisLine: { show: true, onZero: false, lineStyle: { color: '#555', width: 1.5 } },
          axisTick: { show: true, inside: true, length: 8, customValues: xTickHours, lineStyle: { color: '#333' } },
          axisLabel: { show: false },
          splitLine: { show: false },
        },
      ],
      yAxis: [
        {
          type: 'value', min: 0, max: 20, interval: 4, position: 'left',
          name: yLeftName, nameLocation: 'middle', nameGap: 120,
          nameTextStyle: { fontSize: 26, color: '#0000ff', fontFamily: FONT },
          axisLine: { show: true, onZero: false, lineStyle: { color: '#4040ff', width: 1.5 } },
          axisTick: { show: true, inside: true, length: 9, lineStyle: { color: '#4040ff' } },
          axisLabel: { formatter: fmtExp, fontSize: 24, color: '#0000ff', margin: 10, fontFamily: FONT },
          splitLine: { show: true, lineStyle: { color: '#dcdcff', width: 1 } },
        },
        {
          type: 'value', min: 0, max: 180, interval: 36, position: 'right',
          name: yRightName, nameLocation: 'middle', nameGap: 62,
          nameTextStyle: { fontSize: 26, color: '#ff0000', fontFamily: FONT },
          axisLine: { show: true, onZero: false, lineStyle: { color: '#ff4040', width: 1.5 } },
          axisTick: { show: true, inside: true, length: 9, lineStyle: { color: '#ff4040' } },
          axisLabel: { fontSize: 24, color: '#ff0000', margin: 12, fontFamily: FONT },
          splitLine: { show: false },
        },
      ],
      series: [
        {
          type: 'scatter', xAxisIndex: 0, yAxisIndex: 0, data: scatterData,
          symbol: 'circle', symbolSize: 5.5, itemStyle: { color: '#0000ff', opacity: 1 }, silent: true, z: 2,
        },
        {
          type: 'line', xAxisIndex: 0, yAxisIndex: 1, data: nadir, showSymbol: false, symbol: 'none',
          lineStyle: { color: '#ff0000', width: 1.2 }, silent: true, z: 3,
          markLine: {
            silent: true, symbol: ['none', 'none'], animation: false,
            label: { show: false },
            lineStyle: { type: [7, 5], color: '#333', width: 1.4 },
            data: offsetEventHours.map((h) => ({ xAxis: h })),
          },
        },
      ],
    };
    chart.setOption(option);
    return () => chart.dispose();
  }, []);

  return (
    <div
      ref={ref}
      style={{ position: 'absolute', left: 0, top: 0, width: 1164, height: 836, background: '#fff' }}
    />
  );
}
